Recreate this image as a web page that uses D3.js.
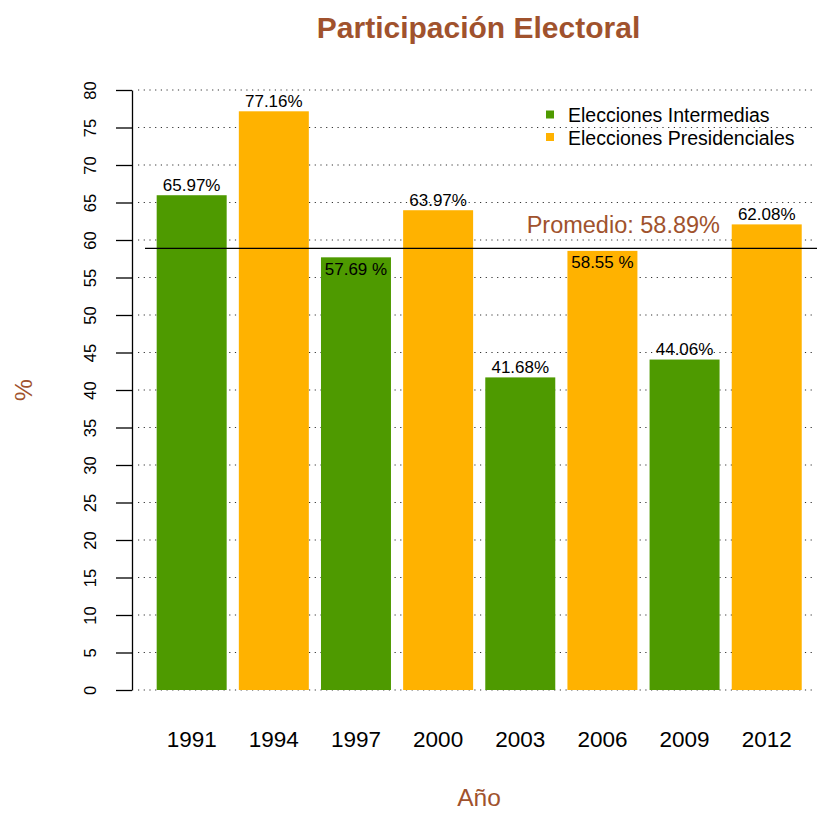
<!DOCTYPE html>
<html>
<head>
<meta charset="utf-8">
<script src="https://cdn.jsdelivr.net/npm/d3@7"></script>
<style>
  body { margin: 0; background: #fff; }
  text { font-family: "Liberation Sans", Arial, sans-serif; }
</style>
</head>
<body>
<div id="chart"></div>
<script>
// Data
var years = ["1991", "1994", "1997", "2000", "2003", "2006", "2009", "2012"];
var turnout = [65.97, 77.16, 57.69, 63.97, 41.68, 58.55, 44.06, 62.08];
var kinds = ["I", "P", "I", "P", "I", "P", "I", "P"];
var valueLabels = ["65.97%", "77.16%", "57.69 %", "63.97%", "41.68%", "58.55 %", "44.06%", "62.08%"];
var labelInside = [false, false, true, false, false, true, false, false];
var yTicks = [0, 5, 10, 15, 20, 25, 30, 35, 40, 45, 50, 55, 60, 65, 70, 75, 80];
var legendLabels = ["Elecciones Intermedias", "Elecciones Presidenciales"];
var mean = 58.89;

var width = 817, height = 814;
var brown = "#A0522D";
var color = d3.scaleOrdinal().domain(["I", "P"]).range(["#4E9A00", "#FFB200"]);

var svg = d3.select("#chart").append("svg")
  .attr("width", width)
  .attr("height", height);

var x = d3.scaleBand()
  .domain(years)
  .range([150.6, 807.8])
  .paddingInner(0.148)
  .paddingOuter(0.074);

var y = d3.scaleLinear().domain([0, 80]).range([690, 90]);

// dotted grid
svg.append("g").selectAll("line")
  .data(yTicks)
  .enter().append("line")
  .attr("x1", 138).attr("x2", 813)
  .attr("y1", function(d) { return y(d); })
  .attr("y2", function(d) { return y(d); })
  .attr("stroke", "#333")
  .attr("stroke-width", 1.2)
  .attr("stroke-dasharray", "1.2,4.5");

// bars
svg.append("g").selectAll("rect")
  .data(turnout)
  .enter().append("rect")
  .attr("x", function(d, i) { return x(years[i]); })
  .attr("y", function(d) { return y(d); })
  .attr("width", x.bandwidth())
  .attr("height", function(d) { return y(0) - y(d); })
  .attr("fill", function(d, i) { return color(kinds[i]); });

// value labels
svg.append("g").selectAll("text")
  .data(turnout)
  .enter().append("text")
  .attr("x", function(d, i) { return x(years[i]) + x.bandwidth() / 2; })
  .attr("y", function(d, i) { return labelInside[i] ? y(d) + 17.5 : y(d) - 4.5; })
  .attr("text-anchor", "middle")
  .attr("font-size", 17)
  .attr("fill", "#000")
  .text(function(d, i) { return valueLabels[i]; });

// mean line
svg.append("line")
  .attr("x1", 145).attr("x2", 817)
  .attr("y1", y(mean)).attr("y2", y(mean))
  .attr("stroke", "#000")
  .attr("stroke-width", 1.3);

svg.append("text")
  .attr("x", 720)
  .attr("y", y(mean) - 15)
  .attr("text-anchor", "end")
  .attr("font-size", 23.5)
  .attr("fill", brown)
  .text("Promedio: " + mean + "%");

// y axis
var yAxis = d3.axisLeft(y)
  .tickValues(yTicks)
  .tickSize(16)
  .tickSizeOuter(0)
  .tickPadding(0);

var gy = svg.append("g")
  .attr("transform", "translate(132,0)")
  .call(yAxis);
gy.select(".domain").attr("stroke", "#000").attr("stroke-width", 1.3);
gy.selectAll(".tick line").attr("stroke", "#000").attr("stroke-width", 1.3);
gy.selectAll(".tick text")
  .attr("x", 0).attr("dy", 0)
  .attr("transform", "translate(-36,0) rotate(-90)")
  .attr("text-anchor", "middle")
  .attr("font-size", 16.5)
  .attr("fill", "#000");

// x labels
svg.append("g").selectAll("text")
  .data(years)
  .enter().append("text")
  .attr("x", function(d) { return x(d) + x.bandwidth() / 2; })
  .attr("y", 747)
  .attr("text-anchor", "middle")
  .attr("font-size", 22.5)
  .attr("fill", "#000")
  .text(function(d) { return d; });

// titles
svg.append("text")
  .attr("x", 478.5).attr("y", 38)
  .attr("text-anchor", "middle")
  .attr("font-size", 30)
  .attr("font-weight", "bold")
  .attr("fill", brown)
  .text("Participación Electoral");

svg.append("text")
  .attr("x", 479).attr("y", 806)
  .attr("text-anchor", "middle")
  .attr("font-size", 24.5)
  .attr("fill", brown)
  .text("Año");

svg.append("text")
  .attr("transform", "translate(32,390) rotate(-90)")
  .attr("text-anchor", "middle")
  .attr("font-size", 24.5)
  .attr("fill", brown)
  .text("%");

// legend
var legend = svg.append("g").selectAll("g")
  .data(legendLabels)
  .enter().append("g")
  .attr("transform", function(d, i) { return "translate(546," + (122 + i * 22.5) + ")"; });

legend.append("rect")
  .attr("x", 0).attr("y", -11.5)
  .attr("width", 8).attr("height", 8)
  .attr("fill", function(d, i) { return color(["I", "P"][i]); });

legend.append("text")
  .attr("x", 22).attr("y", 0)
  .attr("font-size", 19.5)
  .attr("fill", "#000")
  .text(function(d) { return d; });
</script>
</body>
</html>
